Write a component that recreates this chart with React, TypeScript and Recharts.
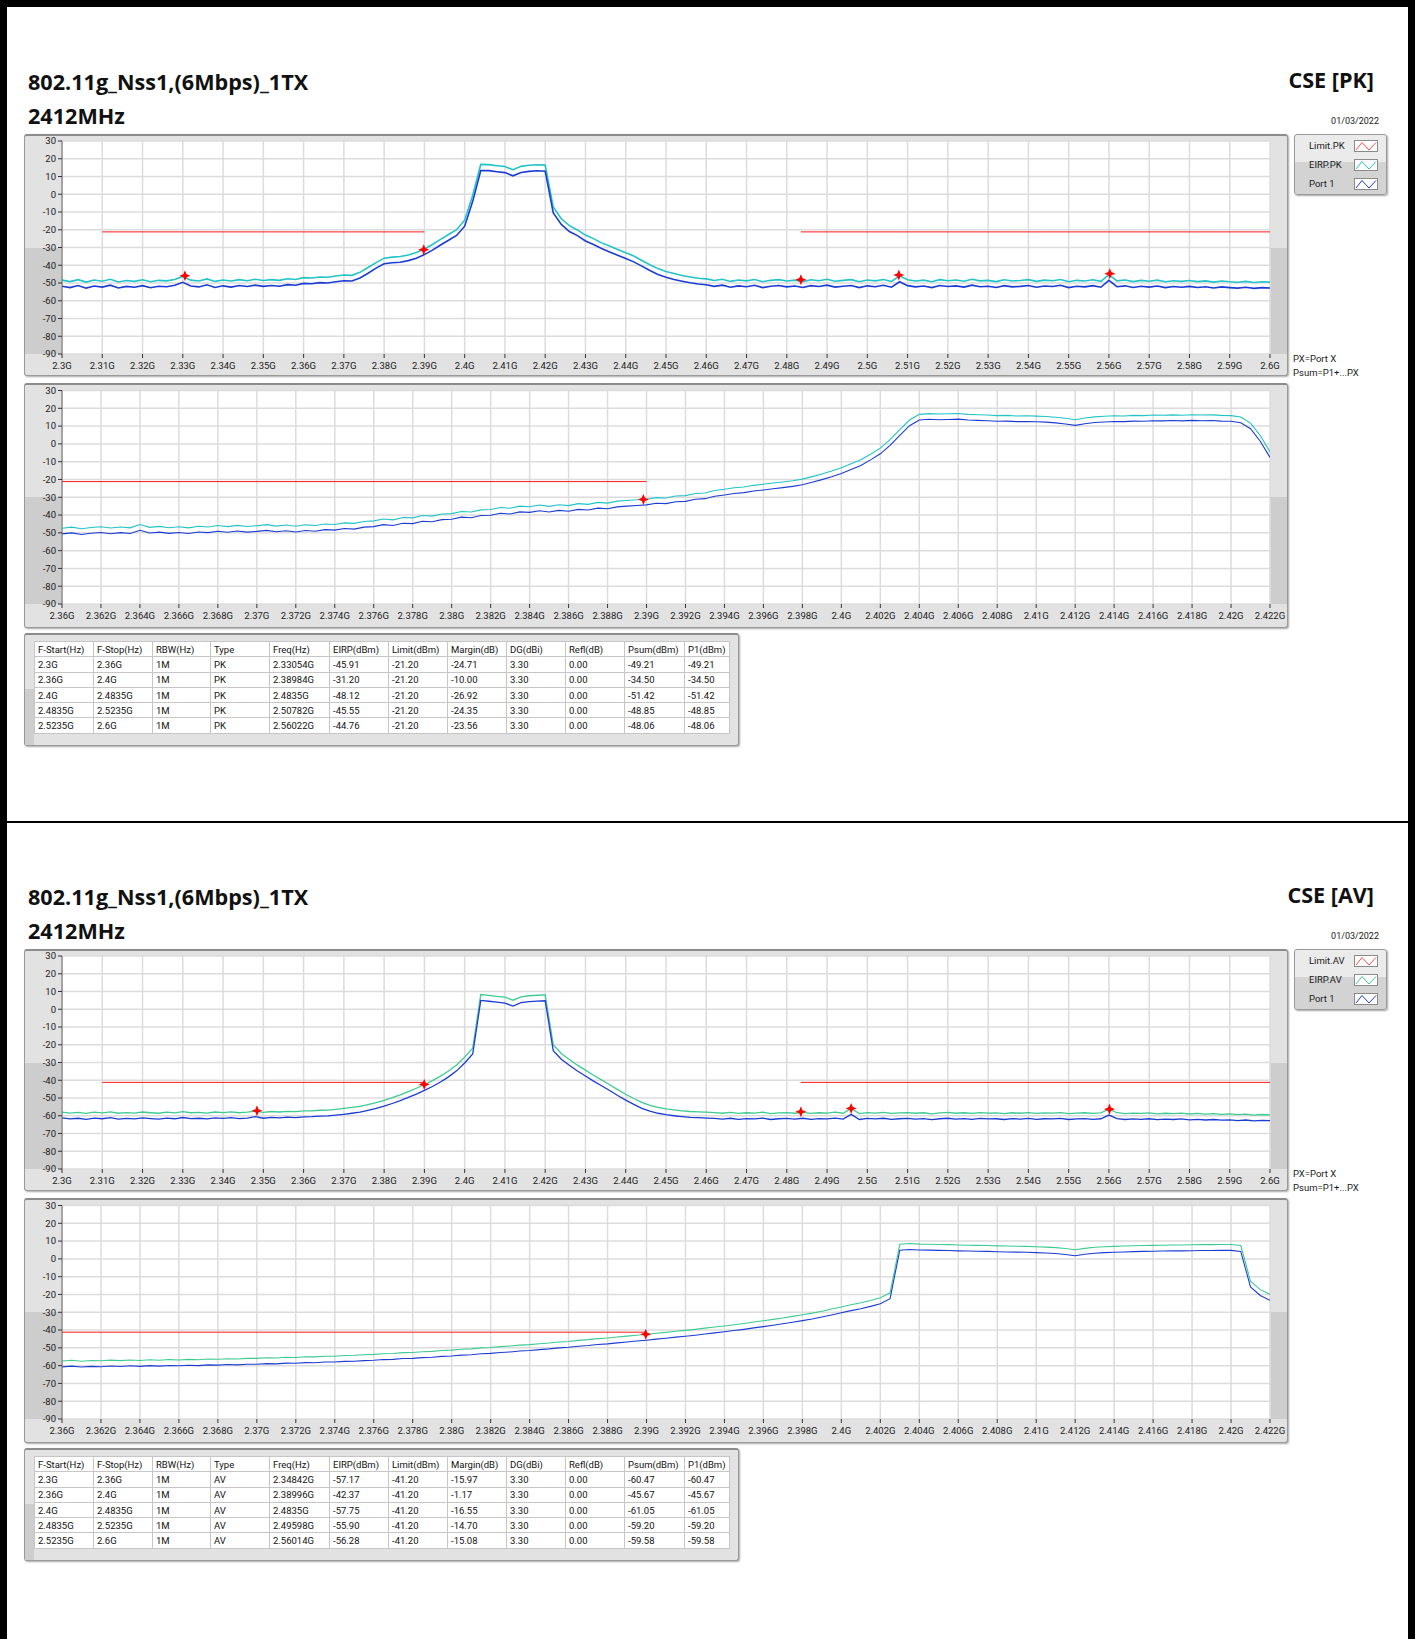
import React from 'react';
import { ComposedChart, Line, Scatter, XAxis, YAxis, CartesianGrid } from 'recharts';

// analyser sweep grids (start + step of each trace)
const WIDE_START = 2.3;
const WIDE_STEP = 0.002;
const ZOOM_START = 2.36;
const ZOOM_STEP = 0.0005;

const WIDE_TICKS = [2.3, 2.31, 2.32, 2.33, 2.34, 2.35, 2.36, 2.37, 2.38, 2.39, 2.4, 2.41, 2.42, 2.43, 2.44, 2.45, 2.46, 2.47, 2.48, 2.49, 2.5, 2.51, 2.52, 2.53, 2.54, 2.55, 2.56, 2.57, 2.58, 2.59, 2.6];
const ZOOM_TICKS = [2.36, 2.362, 2.364, 2.366, 2.368, 2.37, 2.372, 2.374, 2.376, 2.378, 2.38, 2.382, 2.384, 2.386, 2.388, 2.39, 2.392, 2.394, 2.396, 2.398, 2.4, 2.402, 2.404, 2.406, 2.408, 2.41, 2.412, 2.414, 2.416, 2.418, 2.42, 2.422];
const LEVEL_TICKS = [30, 20, 10, 0, -10, -20, -30, -40, -50, -60, -70, -80, -90];

// restricted bands where the limit applies (GHz)
const LIMIT_BANDS = [[2.31, 2.39], [2.4835, 2.6]];

const TABLE_HEAD = ['F-Start(Hz)', 'F-Stop(Hz)', 'RBW(Hz)', 'Type', 'Freq(Hz)', 'EIRP(dBm)', 'Limit(dBm)', 'Margin(dB)', 'DG(dBi)', 'Refl(dB)', 'Psum(dBm)', 'P1(dBm)'];

const PK_ROWS = [
  ['2.3G', '2.36G', '1M', 'PK', '2.33054G', '-45.91', '-21.20', '-24.71', '3.30', '0.00', '-49.21', '-49.21'],
  ['2.36G', '2.4G', '1M', 'PK', '2.38984G', '-31.20', '-21.20', '-10.00', '3.30', '0.00', '-34.50', '-34.50'],
  ['2.4G', '2.4835G', '1M', 'PK', '2.4835G', '-48.12', '-21.20', '-26.92', '3.30', '0.00', '-51.42', '-51.42'],
  ['2.4835G', '2.5235G', '1M', 'PK', '2.50782G', '-45.55', '-21.20', '-24.35', '3.30', '0.00', '-48.85', '-48.85'],
  ['2.5235G', '2.6G', '1M', 'PK', '2.56022G', '-44.76', '-21.20', '-23.56', '3.30', '0.00', '-48.06', '-48.06'],
];

const AV_ROWS = [
  ['2.3G', '2.36G', '1M', 'AV', '2.34842G', '-57.17', '-41.20', '-15.97', '3.30', '0.00', '-60.47', '-60.47'],
  ['2.36G', '2.4G', '1M', 'AV', '2.38996G', '-42.37', '-41.20', '-1.17', '3.30', '0.00', '-45.67', '-45.67'],
  ['2.4G', '2.4835G', '1M', 'AV', '2.4835G', '-57.75', '-41.20', '-16.55', '3.30', '0.00', '-61.05', '-61.05'],
  ['2.4835G', '2.5235G', '1M', 'AV', '2.49598G', '-55.90', '-41.20', '-14.70', '3.30', '0.00', '-59.20', '-59.20'],
  ['2.5235G', '2.6G', '1M', 'AV', '2.56014G', '-56.28', '-41.20', '-15.08', '3.30', '0.00', '-59.58', '-59.58'],
];

// ---- PK traces, 2.3 - 2.6 GHz ----
const PK_WIDE_PORT1 = [
  -51.8, -52.6, -51.4, -52.9, -51.7, -52.3, -51.2, -52.8, -51.9, -52.4,
  -51.5, -52.7, -51.8, -52.1, -51.3, -49.6, -51.7, -52.2, -51.0, -52.5,
  -51.6, -52.3, -51.4, -52.0, -51.2, -51.9, -51.4, -51.8, -50.9, -51.3,
  -50.2, -50.4, -49.8, -50.0, -49.3, -48.7, -48.9, -47.2, -44.5, -41.6,
  -39.2, -38.6, -38.3, -37.4, -36.0, -34.0, -31.5, -28.6, -25.9, -23.2,
  -18.0, -4.0, 13.4, 13.3, 12.7, 12.2, 10.4, 12.3, 12.9, 13.2,
  13.0, -10.5, -17.0, -21.0, -23.3, -26.3, -28.3, -30.6, -32.5, -34.4,
  -36.2, -38.1, -40.5, -43.0, -45.2, -46.8, -48.0, -49.0, -49.9, -50.6,
  -51.0, -51.9, -51.2, -52.4, -51.6, -52.1, -51.3, -52.6, -51.8, -51.4,
  -52.2, -51.7, -52.5, -51.5, -52.0, -51.2, -52.3, -51.8, -51.4, -52.6,
  -51.6, -52.1, -51.3, -52.4, -49.3, -51.5, -52.2, -51.7, -52.6, -51.4,
  -52.0, -51.6, -52.3, -51.2, -52.1, -51.8, -52.5, -51.5, -52.2, -51.9,
  -51.4, -52.4, -51.7, -52.0, -51.3, -52.6, -51.8, -52.2, -51.5, -52.4,
  -48.5, -52.1, -51.6, -52.5, -51.8, -52.3, -51.7, -52.6, -52.0, -52.4,
  -51.9, -52.5, -52.1, -52.8, -52.2, -52.6, -52.9, -52.4, -53.0, -52.6,
  -52.8,
];
const PK_WIDE_EIRP = [
  -48.4, -49.2, -48.1, -49.5, -48.3, -49.0, -47.9, -49.4, -48.6, -49.1,
  -48.2, -49.3, -48.5, -48.8, -48.0, -46.3, -48.4, -48.9, -47.7, -49.1,
  -48.3, -48.9, -48.1, -48.7, -47.9, -48.6, -48.1, -48.5, -47.6, -48.0,
  -47.0, -47.2, -46.6, -46.8, -46.1, -45.5, -45.7, -44.0, -41.3, -38.5,
  -36.0, -35.4, -35.1, -34.2, -32.8, -30.8, -28.3, -25.4, -22.7, -20.0,
  -14.6, -0.6, 16.8, 16.7, 16.1, 15.6, 13.8, 15.7, 16.3, 16.6,
  16.4, -7.2, -13.8, -17.7, -20.1, -23.0, -25.0, -27.4, -29.2, -31.1,
  -32.9, -34.8, -37.3, -39.7, -41.9, -43.5, -44.7, -45.8, -46.6, -47.3,
  -47.7, -48.6, -47.9, -49.1, -48.3, -48.8, -48.0, -49.3, -48.5, -48.1,
  -48.9, -48.4, -49.2, -48.2, -48.7, -47.9, -49.0, -48.5, -48.1, -49.3,
  -48.3, -48.8, -48.0, -49.1, -46.0, -48.2, -48.9, -48.4, -49.3, -48.1,
  -48.7, -48.3, -49.0, -47.9, -48.8, -48.5, -49.2, -48.2, -48.9, -48.6,
  -48.1, -49.1, -48.4, -48.7, -48.0, -49.3, -48.5, -48.9, -48.2, -49.1,
  -45.3, -48.8, -48.3, -49.2, -48.5, -49.0, -48.4, -49.3, -48.7, -49.1,
  -48.6, -49.2, -48.8, -49.5, -48.9, -49.3, -49.6, -49.1, -49.7, -49.3,
  -49.5,
];

// ---- PK traces, 2.36 - 2.422 GHz ----
const PK_ZOOM_PORT1 = [
  -50.6, -50.0, -50.9, -50.2, -49.8, -50.5, -49.9, -50.4, -48.6, -50.1,
  -49.6, -50.3, -49.8, -50.4, -49.5, -49.9, -49.1, -49.7, -49.0, -49.6,
  -49.2, -48.6, -49.4, -48.8, -49.5, -48.7, -49.1, -48.2, -48.5, -47.6,
  -47.9, -46.8, -46.5, -45.4, -45.9, -44.6, -44.8, -43.5, -43.8, -42.6,
  -42.4, -41.2, -41.5, -40.3, -40.1, -39.0, -39.4, -38.2, -38.5, -37.6,
  -38.3, -37.4, -37.9, -36.8, -37.2, -36.1, -36.5, -35.4, -35.0, -34.6,
  -34.3, -33.4, -33.6, -32.5, -32.3, -31.1, -30.8, -29.4, -28.7, -27.9,
  -27.4, -26.5, -25.9, -25.2, -24.6, -23.9, -23.0, -21.6, -20.1, -18.5,
  -16.6, -14.4, -12.1, -9.0, -5.6, -0.8, 4.8, 10.2, 13.4, 13.8,
  13.6, 13.7, 13.9, 13.4, 13.2, 13.0, 12.7, 12.8, 12.5, 12.6,
  12.4, 12.2, 11.8, 11.2, 10.4, 11.3, 12.0, 12.3, 12.6, 12.5,
  12.8, 12.7, 13.0, 12.9, 13.1, 12.9, 13.2, 13.0, 13.1, 12.8,
  12.7, 11.9, 8.5, 1.5, -7.6,
];
const PK_ZOOM_EIRP = [
  -47.4, -46.8, -47.7, -47.0, -46.6, -47.3, -46.7, -47.2, -45.3, -46.9,
  -46.4, -47.1, -46.6, -47.2, -46.3, -46.7, -45.9, -46.5, -45.8, -46.4,
  -46.0, -45.4, -46.2, -45.6, -46.3, -45.5, -45.9, -45.0, -45.3, -44.4,
  -44.7, -43.6, -43.3, -42.2, -42.7, -41.4, -41.6, -40.3, -40.6, -39.4,
  -39.2, -38.0, -38.3, -37.1, -36.9, -35.8, -36.2, -35.0, -35.3, -34.4,
  -35.1, -34.2, -34.7, -33.6, -34.0, -32.9, -33.3, -32.2, -31.8, -31.4,
  -31.1, -30.2, -30.4, -29.3, -29.1, -27.9, -27.6, -26.2, -25.5, -24.7,
  -24.2, -23.3, -22.7, -22.0, -21.4, -20.7, -19.8, -18.4, -16.9, -15.3,
  -13.4, -11.2, -8.9, -5.8, -2.4, 2.4, 8.0, 13.4, 16.6, 17.0,
  16.8, 16.9, 17.1, 16.6, 16.4, 16.2, 15.9, 16.0, 15.7, 15.8,
  15.6, 15.4, 15.0, 14.4, 13.6, 14.5, 15.2, 15.5, 15.8, 15.7,
  16.0, 15.9, 16.2, 16.1, 16.3, 16.1, 16.4, 16.2, 16.3, 16.0,
  15.9, 15.1, 11.7, 4.7, -4.5,
];

// ---- AV traces, 2.3 - 2.6 GHz ----
const AV_WIDE_PORT1 = [
  -61.2, -61.8, -61.4, -62.0, -61.3, -61.7, -61.1, -61.9, -61.5, -61.8,
  -61.2, -61.6, -61.9, -61.3, -61.7, -61.0, -61.6, -61.4, -61.8, -61.2,
  -61.5, -61.1, -61.6, -61.3, -60.5, -61.4, -60.9, -61.2, -60.8, -61.0,
  -60.6, -60.5, -60.2, -60.1, -59.7, -59.2, -58.6, -58.0, -57.0, -55.9,
  -54.6, -53.1, -51.5, -49.7, -47.8, -45.7, -43.5, -41.0, -38.1, -34.7,
  -30.3, -25.2, 5.0, 4.5, 4.0, 3.5, 1.8, 3.7, 4.3, 4.6,
  4.8, -23.3, -28.2, -31.6, -34.8, -37.6, -40.5, -43.1, -45.8, -48.6,
  -51.2, -53.6, -55.8, -57.4, -58.6, -59.4, -60.0, -60.5, -60.9, -61.1,
  -61.3, -61.5, -61.9, -61.4, -62.0, -61.6, -61.8, -61.3, -62.1, -61.7,
  -61.5, -61.9, -61.4, -62.0, -61.6, -61.8, -61.3, -61.9, -59.2, -62.1,
  -61.5, -61.8, -61.4, -62.0, -61.7, -61.5, -61.9, -61.6, -62.2, -61.7,
  -61.4, -61.9, -61.6, -62.0, -61.5, -61.8, -61.7, -62.1, -61.6, -61.9,
  -61.5, -62.0, -61.7, -61.8, -61.5, -62.1, -61.8, -61.6, -62.0, -61.7,
  -59.6, -61.6, -62.1, -61.8, -62.0, -61.7, -62.2, -61.9, -62.1, -61.8,
  -62.3, -62.0, -62.4, -62.1, -62.5, -62.3, -62.7, -62.4, -62.9, -62.6,
  -62.8,
];
const AV_WIDE_EIRP = [
  -57.9, -58.5, -58.1, -58.7, -58.0, -58.4, -57.8, -58.6, -58.2, -58.5,
  -57.9, -58.3, -58.6, -58.0, -58.4, -57.7, -58.3, -58.1, -58.5, -57.9,
  -58.2, -57.8, -58.3, -58.0, -57.4, -58.1, -57.6, -57.9, -57.5, -57.7,
  -57.3, -57.2, -56.9, -56.8, -56.4, -55.9, -55.3, -54.7, -53.7, -52.6,
  -51.3, -49.8, -48.2, -46.4, -44.5, -42.4, -40.2, -37.7, -34.8, -31.4,
  -27.0, -21.9, 8.3, 7.8, 7.3, 6.8, 5.1, 7.0, 7.6, 7.9,
  8.1, -20.0, -24.9, -28.3, -31.5, -34.3, -37.2, -39.8, -42.5, -45.3,
  -47.9, -50.3, -52.5, -54.1, -55.3, -56.1, -56.7, -57.2, -57.6, -57.8,
  -58.0, -58.2, -58.6, -58.1, -58.7, -58.3, -58.5, -58.0, -58.8, -58.4,
  -58.2, -58.6, -58.1, -58.7, -58.3, -58.5, -58.0, -58.6, -55.9, -58.8,
  -58.2, -58.5, -58.1, -58.7, -58.4, -58.2, -58.6, -58.3, -58.9, -58.4,
  -58.1, -58.6, -58.3, -58.7, -58.2, -58.5, -58.4, -58.8, -58.3, -58.6,
  -58.2, -58.7, -58.4, -58.5, -58.2, -58.8, -58.5, -58.3, -58.7, -58.4,
  -56.3, -58.3, -58.8, -58.5, -58.7, -58.4, -58.9, -58.6, -58.8, -58.5,
  -59.0, -58.7, -59.1, -58.8, -59.2, -59.0, -59.4, -59.1, -59.6, -59.3,
  -59.5,
];

// ---- AV traces, 2.36 - 2.422 GHz ----
const AV_ZOOM_PORT1 = [
  -60.7, -60.3, -60.8, -60.4, -60.6, -60.2, -60.5, -60.1, -60.4, -60.0,
  -60.3, -59.9, -60.1, -59.8, -60.0, -59.6, -59.7, -59.4, -59.6, -59.2,
  -59.2, -58.9, -59.0, -58.6, -58.7, -58.3, -58.4, -58.0, -58.0, -57.6,
  -57.5, -57.2, -57.0, -56.6, -56.5, -56.0, -55.9, -55.5, -55.3, -54.8,
  -54.6, -54.1, -53.9, -53.3, -53.1, -52.6, -52.3, -51.8, -51.5, -51.0,
  -50.6, -50.0, -49.7, -49.1, -48.7, -48.1, -47.8, -47.2, -46.7, -46.2,
  -45.7, -45.1, -44.6, -44.0, -43.5, -42.9, -42.2, -41.6, -41.0, -40.3,
  -39.6, -38.8, -38.1, -37.3, -36.5, -35.6, -34.7, -33.8, -32.7, -31.5,
  -30.3, -29.1, -28.0, -26.7, -25.2, -22.4, 4.9, 5.3, 5.0, 4.9,
  4.8, 4.7, 4.5, 4.4, 4.3, 4.2, 4.0, 3.9, 3.8, 3.7,
  3.5, 3.3, 3.0, 2.5, 1.8, 2.6, 3.2, 3.5, 3.7, 3.9,
  4.1, 4.2, 4.3, 4.4, 4.5, 4.5, 4.6, 4.7, 4.7, 4.8,
  4.8, 4.2, -15.8, -20.6, -23.3,
];
const AV_ZOOM_EIRP = [
  -57.4, -57.0, -57.5, -57.1, -57.3, -56.9, -57.2, -56.8, -57.1, -56.7,
  -57.0, -56.6, -56.8, -56.5, -56.7, -56.3, -56.4, -56.1, -56.3, -55.9,
  -55.9, -55.6, -55.7, -55.3, -55.4, -55.0, -55.1, -54.7, -54.7, -54.3,
  -54.2, -53.9, -53.7, -53.3, -53.2, -52.7, -52.6, -52.2, -52.0, -51.5,
  -51.3, -50.8, -50.6, -50.0, -49.8, -49.3, -49.0, -48.5, -48.2, -47.7,
  -47.3, -46.7, -46.4, -45.8, -45.4, -44.8, -44.5, -43.9, -43.4, -42.9,
  -42.4, -41.8, -41.3, -40.7, -40.2, -39.6, -38.9, -38.3, -37.7, -37.0,
  -36.3, -35.5, -34.8, -34.0, -33.2, -32.3, -31.4, -30.5, -29.4, -28.2,
  -27.0, -25.8, -24.7, -23.4, -21.9, -19.1, 8.2, 8.6, 8.3, 8.2,
  8.1, 8.0, 7.8, 7.7, 7.6, 7.5, 7.3, 7.2, 7.1, 7.0,
  6.8, 6.6, 6.3, 5.8, 5.1, 5.9, 6.5, 6.8, 7.0, 7.2,
  7.4, 7.5, 7.6, 7.7, 7.8, 7.8, 7.9, 8.0, 8.0, 8.1,
  8.1, 7.5, -12.5, -17.3, -20.0,
];

const BLUE = '#1c3cd4';
const CYAN = '#22c4c8';
const GREEN = '#3ecb92';
const RED = '#ff1a1a';
const SMALL_FONT = 'Roboto, "Noto Sans", sans-serif';
const TITLE_FONT = '"Open Sans", "Noto Sans", sans-serif';

type Pt = { f: number; v: number };

const toPoints = (vals: number[], start: number, step: number): Pt[] =>
  vals.map((v, i) => ({ f: start + i * step, v }));

const starShape = (props: any) => {
  const { cx, cy } = props;
  if (cx == null || cy == null) return <g />;
  const a = 5.5, b = 1.6;
  const d = `M${cx},${cy - a} L${cx + b},${cy - b} L${cx + a},${cy} L${cx + b},${cy + b} L${cx},${cy + a} L${cx - b},${cy + b} L${cx - a},${cy} L${cx - b},${cy - b} Z`;
  return <path d={d} fill="#ff0000" />;
};

const frameBox = (left: number, top: number, width: number, height: number): React.CSSProperties => ({
  position: 'absolute',
  left,
  top,
  width,
  height,
  boxSizing: 'border-box',
  border: '1px solid #9a9a9a',
  borderTop: '2px solid #8c8c8c',
  borderRadius: 3,
  background: '#e2e2e2',
  boxShadow: '1px 1px 2px rgba(0,0,0,0.35)',
});

function Panel(props: {
  left: number; top: number; width: number; height: number; padTop: number; axisH: number;
  domain: [number, number]; ticks: number[]; eirp: Pt[]; port: Pt[]; limits: Pt[][]; marks: Pt[];
  eirpColor: string; thick: number;
}) {
  const p = props;
  const plotL = 38;
  const plotR = 18;
  const plotBottom = p.height - p.axisH;
  const mid = Math.round((p.padTop + plotBottom) / 2);
  return (
    <>
      <div style={frameBox(p.left, p.top, p.width, p.height)} />
      <div style={{ position: 'absolute', left: p.left + 1, top: p.top + mid, width: plotL - 1, height: plotBottom - mid, background: '#cdcdcd' }} />
      <div style={{ position: 'absolute', left: p.left + p.width - plotR, top: p.top + mid, width: plotR - 1, height: plotBottom - mid, background: '#cdcdcd' }} />
      <div style={{ position: 'absolute', left: p.left, top: p.top }}>
        <ComposedChart width={p.width} height={p.height} margin={{ top: p.padTop, right: plotR, bottom: 0, left: 0 }}>
          <CartesianGrid stroke="#dcdcdc" strokeWidth={1.5} fill="#ffffff" verticalValues={p.ticks} horizontalValues={LEVEL_TICKS} />
          <XAxis
            type="number"
            dataKey="f"
            domain={p.domain}
            ticks={p.ticks}
            interval={0}
            allowDataOverflow
            height={p.axisH}
            tickSize={4}
            tickMargin={4}
            axisLine={false}
            tickLine={{ stroke: '#333' }}
            tick={{ fontSize: 9.5, fill: '#1a1a1a', fontFamily: SMALL_FONT }}
            tickFormatter={(v: number) => `${v}G`}
          />
          <YAxis
            type="number"
            domain={[-90, 30]}
            ticks={LEVEL_TICKS}
            interval={0}
            allowDataOverflow
            width={plotL}
            tickSize={4}
            tickMargin={2}
            axisLine={{ stroke: '#666' }}
            tickLine={{ stroke: '#333' }}
            tick={{ fontSize: 9.5, fill: '#1a1a1a', fontFamily: SMALL_FONT }}
          />
          <Line data={p.eirp} dataKey="v" type="linear" stroke={p.eirpColor} strokeWidth={p.thick} dot={false} isAnimationActive={false} />
          <Line data={p.port} dataKey="v" type="linear" stroke={BLUE} strokeWidth={p.thick} dot={false} isAnimationActive={false} />
          {p.limits.map((seg, i) => (
            <Line key={i} data={seg} dataKey="v" type="linear" stroke={RED} strokeWidth={1} dot={false} isAnimationActive={false} />
          ))}
          <Scatter data={p.marks} dataKey="v" shape={starShape} isAnimationActive={false} />
        </ComposedChart>
      </div>
    </>
  );
}

function LegendBox({ left, top, items }: { left: number; top: number; items: { label: string; color: string }[] }) {
  return (
    <div style={{ ...frameBox(left, top, 93, 61), borderTop: '1px solid #9a9a9a', background: 'linear-gradient(#ebebeb 0, #ebebeb 27px, #d3d3d3 27px, #d3d3d3 100%)' }}>
      {items.map((it, i) => (
        <div key={i} style={{ position: 'absolute', left: 0, top: 4 + i * 19, width: 91, height: 14 }}>
          <div style={{ position: 'absolute', left: 14, top: 0, fontFamily: SMALL_FONT, fontSize: 9.5, lineHeight: '14px', color: '#1a1a1a' }}>{it.label}</div>
          <svg style={{ position: 'absolute', left: 59, top: 1 }} width={24} height={12}>
            <rect x={0.5} y={0.5} width={23} height={11} fill="#fff" stroke="#8a8a8a" />
            <polyline points="2,10 8,2.5 15,10 22,2.5" fill="none" stroke={it.color} strokeWidth={1} />
          </svg>
        </div>
      ))}
    </div>
  );
}

const COL_W = [59, 59, 58, 59, 60, 59, 59, 59, 59, 59, 60, 45];

function ResultTable({ top, rows }: { top: number; rows: string[][] }) {
  const cell: React.CSSProperties = {
    border: '1px solid #c6c6c6',
    padding: '0 0 0 3px',
    whiteSpace: 'nowrap',
    overflow: 'hidden',
    lineHeight: '13px',
    height: 14,
  };
  return (
    <>
      <div style={frameBox(24, top, 715, 113)} />
      <div style={{ position: 'absolute', left: 25, top: top + 56, width: 9, height: 56, background: '#cdcdcd' }} />
      <table
        style={{
          position: 'absolute',
          left: 34,
          top: top + 8,
          width: 695,
          borderCollapse: 'collapse',
          tableLayout: 'fixed',
          background: '#fff',
          fontFamily: SMALL_FONT,
          fontSize: 9.5,
          color: '#111',
        }}
      >
        <colgroup>
          {COL_W.map((w, i) => (
            <col key={i} style={{ width: w }} />
          ))}
        </colgroup>
        <tbody>
          <tr style={{ height: 15.3 }}>
            {TABLE_HEAD.map((h, i) => (
              <td key={i} style={cell}>{h}</td>
            ))}
          </tr>
          {rows.map((r, j) => (
            <tr key={j} style={{ height: 15.3 }}>
              {r.map((c, i) => (
                <td key={i} style={cell}>{c}</td>
              ))}
            </tr>
          ))}
        </tbody>
      </table>
    </>
  );
}

function Section(props: {
  top: number; kind: string; rows: string[][];
  wideE: number[]; wideP: number[]; zoomE: number[]; zoomP: number[]; eirpColor: string; thick: number;
}) {
  const { top, kind, rows } = props;
  const level = parseFloat(rows[0][6]);
  const marks = rows.map((r) => ({ f: parseFloat(r[4]), v: parseFloat(r[5]) }));
  const bands = (lo: number, hi: number): Pt[][] =>
    LIMIT_BANDS.filter(([a, b]) => b > lo && a < hi).map(([a, b]) => [
      { f: Math.max(a, lo), v: level },
      { f: Math.min(b, hi), v: level },
    ]);
  const inRange = (lo: number, hi: number) => marks.filter((m) => m.f >= lo && m.f <= hi);
  const zoomEnd = ZOOM_TICKS[ZOOM_TICKS.length - 1];
  const titleStyle: React.CSSProperties = { position: 'absolute', fontFamily: TITLE_FONT, fontWeight: 700, fontSize: 21.6, lineHeight: '22px', color: '#111', whiteSpace: 'nowrap' };

  return (
    <>
      <div style={{ ...titleStyle, left: 28, top: top + 70.5 }}>802.11g_Nss1,(6Mbps)_1TX</div>
      <div style={{ ...titleStyle, left: 28, top: top + 104.5 }}>2412MHz</div>
      <div style={{ ...titleStyle, right: 41, top: top + 68.5 }}>{`CSE [${kind}]`}</div>
      <div style={{ position: 'absolute', right: 36, top: top + 115, fontFamily: SMALL_FONT, fontSize: 9, lineHeight: '12px', color: '#1a1a1a' }}>
        01/03/2022
      </div>

      <Panel
        left={24}
        top={top + 134}
        width={1264}
        height={242}
        padTop={7}
        axisH={22}
        domain={[WIDE_START, 2.6]}
        ticks={WIDE_TICKS}
        eirp={toPoints(props.wideE, WIDE_START, WIDE_STEP)}
        port={toPoints(props.wideP, WIDE_START, WIDE_STEP)}
        limits={bands(WIDE_START, 2.6)}
        marks={inRange(WIDE_START, 2.6)}
        eirpColor={props.eirpColor}
        thick={props.thick}
      />

      <LegendBox
        left={1294}
        top={top + 134}
        items={[
          { label: `Limit.${kind}`, color: '#ff4d4d' },
          { label: `EIRP.${kind}`, color: props.eirpColor },
          { label: 'Port 1', color: BLUE },
        ]}
      />

      <div style={{ position: 'absolute', left: 1293, top: top + 352, fontFamily: SMALL_FONT, fontSize: 9.5, lineHeight: '14px', color: '#1a1a1a', whiteSpace: 'nowrap' }}>
        <div>PX=Port X</div>
        <div>Psum=P1+...PX</div>
      </div>

      <Panel
        left={24}
        top={top + 383}
        width={1264}
        height={245}
        padTop={7.5}
        axisH={24}
        domain={[ZOOM_START, zoomEnd]}
        ticks={ZOOM_TICKS}
        eirp={toPoints(props.zoomE, ZOOM_START, ZOOM_STEP)}
        port={toPoints(props.zoomP, ZOOM_START, ZOOM_STEP)}
        limits={bands(ZOOM_START, zoomEnd)}
        marks={inRange(ZOOM_START, zoomEnd)}
        eirpColor={props.eirpColor}
        thick={1.1}
      />

      <ResultTable top={top + 633} rows={rows} />
    </>
  );
}

export default function App() {
  return (
    <div style={{ position: 'absolute', left: 0, top: 0, width: 1415, height: 1639, background: '#fff', overflow: 'hidden' }}>
      {/* black page frame */}
      <div style={{ position: 'absolute', left: 0, top: 0, width: 1415, height: 7, background: '#000' }} />
      <div style={{ position: 'absolute', left: 0, top: 0, width: 7, height: 1639, background: '#000' }} />
      <div style={{ position: 'absolute', left: 1408, top: 0, width: 7, height: 1639, background: '#000' }} />
      <div style={{ position: 'absolute', left: 0, top: 821, width: 1415, height: 2, background: '#000' }} />

      <Section top={0} kind="PK" rows={PK_ROWS} wideE={PK_WIDE_EIRP} wideP={PK_WIDE_PORT1} zoomE={PK_ZOOM_EIRP} zoomP={PK_ZOOM_PORT1} eirpColor={CYAN} thick={1.6} />
      <Section top={815} kind="AV" rows={AV_ROWS} wideE={AV_WIDE_EIRP} wideP={AV_WIDE_PORT1} zoomE={AV_ZOOM_EIRP} zoomP={AV_ZOOM_PORT1} eirpColor={GREEN} thick={1.3} />
    </div>
  );
}
